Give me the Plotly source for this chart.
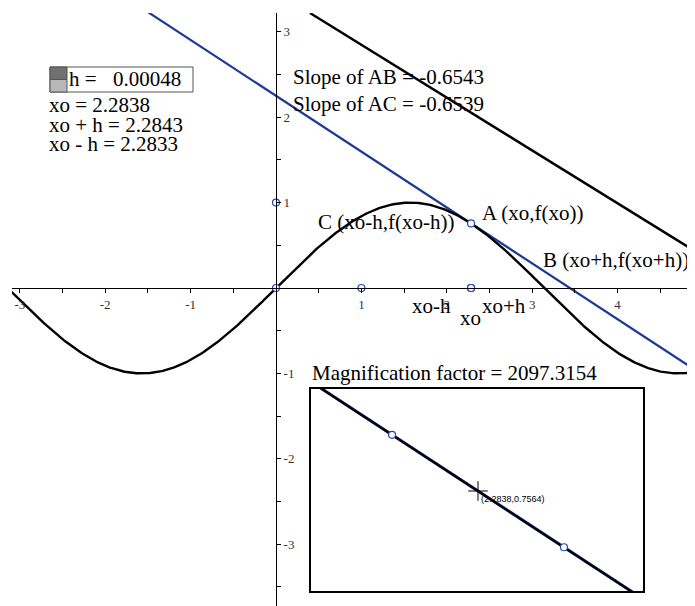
import numpy as np
import plotly.graph_objects as go

# ---- data ----
xo = 2.2838
h = 0.00048
magnification = 2097.3154
slope_AB = -0.6543
slope_AC = -0.6539
x_tick_vals = [-3, -2, -1, 0, 1, 2, 3, 4]
x_tick_text = ["-3", "-2", "-1", "", "1", "2", "3", "4"]
y_tick_vals = [-3, -2, -1, 0, 1, 2, 3]
y_tick_text = ["-3", "-2", "-1", "", "1", "2", "3"]
x_minor = [-2.5, -1.5, -0.5, 0.5, 1.5, 2.5, 3.5, 4.5]
y_minor = [-3.5, -2.5, -1.5, -0.5, 0.5, 1.5, 2.5]
curve_x = np.linspace(-3.1, 4.95, 600)
curve_y = np.sin(curve_x)
fA = float(np.sin(xo))
tan_slope = float(np.cos(xo))
tangent_x = [-1.6, 4.95]
tangent_y = [fA + tan_slope * (t - xo) for t in tangent_x]
upper_x = [0.398, 4.906]
upper_y = [3.22, 0.431]
ref_pts_x = [0, 0, 1, xo - h, xo, xo + h, xo]
ref_pts_y = [0, 1, 0, 0, 0, 0, fA]

# page offset (browser body margin) compensation
OFF = 8
W, H = 695 - OFF, 606 - OFF
SC = 85.4          # px per unit on main axes
OX, OY = 276, 288  # page pixel of origin

def px(x):
    return (x - OFF) / W

def py(y):
    return 1 - (y - OFF) / H

BLUE = "#1c3a94"
PTBLUE = "#2848aa"
SERIF = "Liberation Serif"
FS = 21

fig = go.Figure()

# main plot
fig.add_trace(go.Scatter(x=tangent_x, y=tangent_y, mode="lines",
                         line=dict(color=BLUE, width=2.2), xaxis="x", yaxis="y"))
fig.add_trace(go.Scatter(x=upper_x, y=upper_y, mode="lines",
                         line=dict(color="black", width=2.4), xaxis="x", yaxis="y"))
fig.add_trace(go.Scatter(x=curve_x, y=curve_y, mode="lines",
                         line=dict(color="black", width=2.4), xaxis="x", yaxis="y"))
fig.add_trace(go.Scatter(x=ref_pts_x, y=ref_pts_y, mode="markers",
                         marker=dict(symbol="circle", size=7, color="white",
                                     line=dict(color=PTBLUE, width=1.2)),
                         xaxis="x", yaxis="y"))

# inset (magnified)
s = SC * magnification
x2r = [xo + (311 - 478) / s, xo + (643 - 478) / s]
y2r = [fA - (591 - 491) / s, fA + (491 - 389) / s]
ix = np.linspace(x2r[0] - 2e-4, x2r[1] + 2e-4, 80)
fig.add_trace(go.Scatter(x=[ix[0], ix[-1]],
                         y=[fA + tan_slope * (ix[0] - xo), fA + tan_slope * (ix[-1] - xo)],
                         mode="lines", line=dict(color=BLUE, width=3),
                         xaxis="x2", yaxis="y2"))
fig.add_trace(go.Scatter(x=ix, y=np.sin(ix), mode="lines",
                         line=dict(color="black", width=2.2), xaxis="x2", yaxis="y2"))
fig.add_trace(go.Scatter(x=[xo - h, xo + h], y=[np.sin(xo - h), np.sin(xo + h)],
                         mode="markers",
                         marker=dict(symbol="circle", size=7, color="white",
                                     line=dict(color=PTBLUE, width=1.2)),
                         xaxis="x2", yaxis="y2"))
fig.add_trace(go.Scatter(x=[xo], y=[fA], mode="markers",
                         marker=dict(symbol="cross-thin", size=14,
                                     line=dict(color="black", width=1)),
                         xaxis="x2", yaxis="y2"))

tickfont = dict(family=SERIF, size=13, color="#333")

fig.update_layout(
    width=W, height=H,
    margin=dict(l=0, r=0, t=0, b=0),
    paper_bgcolor="white", plot_bgcolor="rgba(0,0,0,0)",
    showlegend=False,
    xaxis=dict(domain=[px(12), 1],
               range=[(12 - OX) / SC, (695 - OX) / SC],
               anchor="free", position=py(OY),
               showline=True, linecolor="black", linewidth=1,
               ticks="outside", ticklen=4, tickcolor="black", tickwidth=1,
               tickmode="array", tickvals=x_tick_vals, ticktext=x_tick_text,
               minor=dict(tickmode="array", tickvals=x_minor, ticks="outside",
                          ticklen=4, tickcolor="black", tickwidth=1),
               showgrid=False, zeroline=False, tickfont=tickfont),
    yaxis=dict(domain=[0, py(13)],
               range=[-(606 - OY) / SC, (OY - 13) / SC],
               anchor="free", position=px(OX), side="right",
               showline=True, linecolor="black", linewidth=1,
               ticks="outside", ticklen=4, tickcolor="black", tickwidth=1,
               tickmode="array", tickvals=y_tick_vals, ticktext=y_tick_text,
               minor=dict(tickmode="array", tickvals=y_minor, ticks="outside",
                          ticklen=4, tickcolor="black", tickwidth=1),
               showgrid=False, zeroline=False, tickfont=tickfont),
    xaxis2=dict(domain=[px(311), px(643)], range=x2r, anchor="y2",
                showline=True, mirror=True, linecolor="black", linewidth=2,
                showticklabels=False, ticks="", showgrid=False, zeroline=False),
    yaxis2=dict(domain=[py(591), py(389)], range=y2r, anchor="x2",
                showline=True, mirror=True, linecolor="black", linewidth=2,
                showticklabels=False, ticks="", showgrid=False, zeroline=False),
)

# slider widget for h
fig.add_shape(type="rect", xref="paper", yref="paper",
              x0=px(50), x1=px(193), y0=py(92), y1=py(67),
              line=dict(color="#555", width=1), fillcolor="white")
fig.add_shape(type="rect", xref="paper", yref="paper",
              x0=px(50), x1=px(67), y0=py(79.5), y1=py(67),
              line=dict(color="#555", width=1), fillcolor="#707070")
fig.add_shape(type="rect", xref="paper", yref="paper",
              x0=px(50), x1=px(67), y0=py(92), y1=py(79.5),
              line=dict(color="#555", width=1), fillcolor="#b8b8b8")

def label(text, x, y, size=FS, family=SERIF, color="black"):
    fig.add_annotation(text=text, xref="paper", yref="paper",
                       x=px(x), y=py(y), xanchor="left", yanchor="middle",
                       showarrow=False, borderpad=0,
                       font=dict(family=family, size=size, color=color))

label("h =", 68, 79)
label(f"{h:.5f}", 112, 79)
label(f"xo = {xo:.4f}", 48, 105)
label(f"xo + h = {xo + h:.4f}", 48, 125)
label(f"xo - h = {xo - h:.4f}", 48, 144)
label(f"Slope of AB = {slope_AB:.4f}", 292, 77)
label(f"Slope of AC = {slope_AC:.4f}", 292, 104)
label("A (xo,f(xo))", 481, 213)
label("C (xo-h,f(xo-h))", 317, 222)
label("B (xo+h,f(xo+h))", 542, 260)
label("xo-h", 411, 306)
label("xo", 459, 318)
label("xo+h", 481, 306)
label(f"Magnification factor = {magnification:.4f}", 311, 373)
label(f"({xo:.4f},{fA:.4f})", 480, 499, size=9, family="Liberation Sans")

fig.write_html("out.html")
